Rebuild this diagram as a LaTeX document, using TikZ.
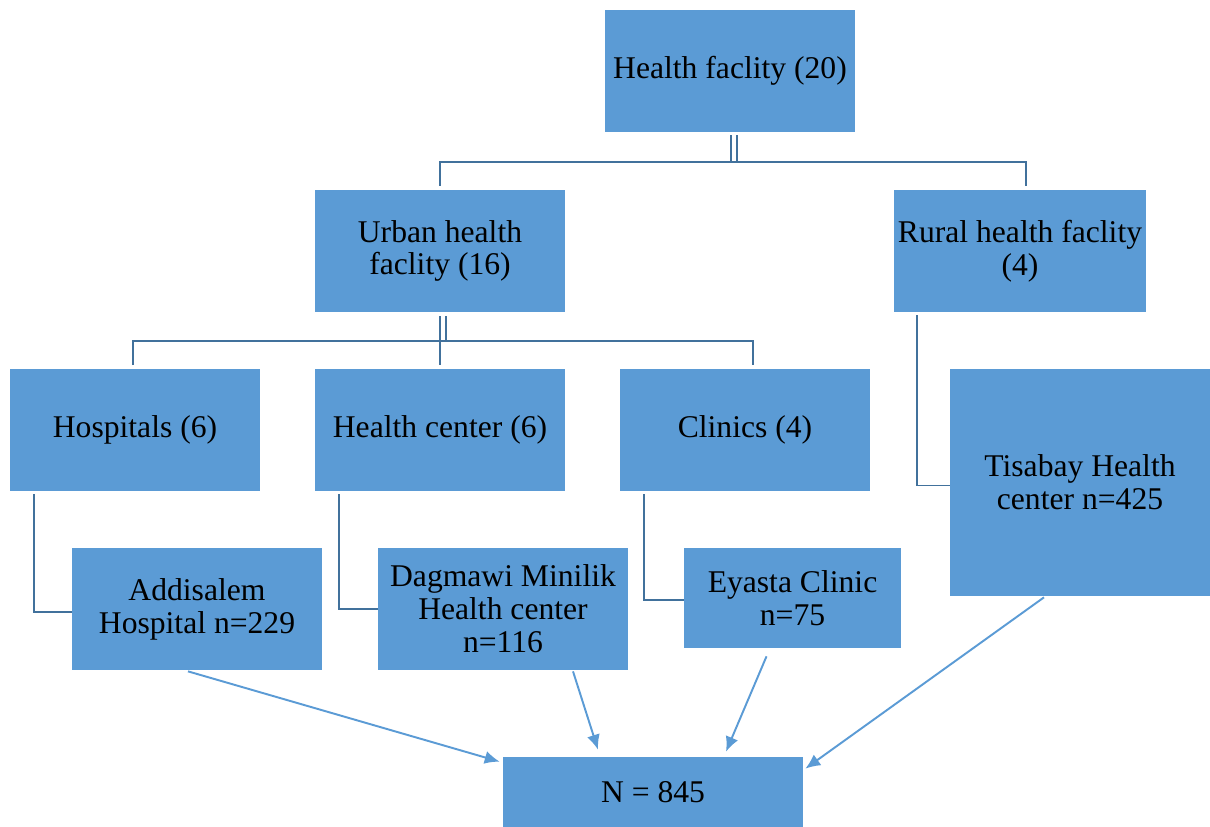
\documentclass[tikz,border=0pt]{standalone}
\usepackage{fontspec}
\setmainfont{Liberation Serif}
\usetikzlibrary{positioning,calc,arrows.meta}
\definecolor{boxblue}{HTML}{5B9BD5}
\definecolor{lineblue}{HTML}{41719C}

\begin{document}
\begin{tikzpicture}[x=0.02cm,y=-0.02cm]
		\tikzstyle{block} = [rectangle,fill=boxblue,minimum width=5cm,minimum height=2.44cm,align=center,inner sep=2pt,font=\fontsize{18}{18.7}\selectfont]
		\tikzstyle{link} = [draw=lineblue,line width=1.1pt]
		\tikzstyle{twin} = [draw=lineblue,line width=0.9pt,double=white,double distance=2.4pt]
		\tikzstyle{flow} = [draw=boxblue,line width=1.1pt,-{Latex[length=8.5pt,width=7.5pt]}]
		
		\useasboundingbox (0,0) rectangle (1210,826);
		
		\node[block] (hf) at (730,71) {Health faclity (20)};
		
		\node[block] (urban) at (440,251) {Urban health\\faclity (16)};
		\node[block] (rural) at (1020,251) {Rural health faclity\\(4)};
		
		\node[block] (hosp) at (135,430) {Hospitals (6)};
		\node[block] (hc) at (440,430) {Health center (6)};
		\node[block] (clin) at (745,430) {Clinics (4)};
		\node[block,minimum width=5.2cm,minimum height=4.54cm] (tis) at (1080,482.5) {Tisabay Health\\center n=425};
		
		\node[block] (add) at (197,609) {Addisalem\\Hospital n=229};
		\node[block] (dag) at (503,609) {Dagmawi Minilik\\Health center\\n=116};
		\node[block,minimum width=4.34cm,minimum height=2cm] (eya) at (792.5,598) {Eyasta Clinic\\n=75};
		
		\node[block,minimum width=6cm,minimum height=1.4cm] (tot) at (653,792) {N = 845};
		
		\coordinate (j1) at (734,162);
		\coordinate (j2) at (443,341);
		
		\draw[twin,shorten <=1.7pt] ($(hf.south)+(4,0)$) -- (j1);
		\draw[link,shorten <=2.3pt,shorten >=2.3pt] (urban.north) |- (j1) -| ($(rural.north)+(6,0)$);
		
		\draw[twin,shorten <=2.3pt] ($(urban.south)+(3,0)$) -- (j2);
		\draw[link,shorten <=2pt,shorten >=2pt] ($(hosp.north)+(-2,0)$) |- (j2) -| ($(clin.north)+(8,0)$);
		\draw[link,shorten >=2pt] (j2 -| hc.north) -- (hc.north);
		
		\draw[link] ($(hosp.south west)+(24,3)$) |- ($(add.west)+(0,3)$);
		\draw[link] ($(hc.south west)+(24,3)$) |- (dag.west);
		\draw[link] ($(clin.south west)+(24,3)$) |- ($(eya.west)+(0,2)$);
		\draw[link] ($(rural.south west)+(23,3)$) |- ($(tis.west)+(0,3)$);
		
		\draw[flow] ($(add.south)+(-9,1)$) -- ($(tot.north west)+(-3,5)$);
		\draw[flow] ($(dag.south)+(70,1)$) -- ($(tot.north)+(-55,-7)$);
		\draw[flow] ($(eya.south)+(-26,8)$) -- ($(tot.north)+(73,-5)$);
		\draw[flow] ($(tis.south)+(-36,1)$) -- ($(tot.north east)+(2,12)$);
	\end{tikzpicture}
\end{document}
